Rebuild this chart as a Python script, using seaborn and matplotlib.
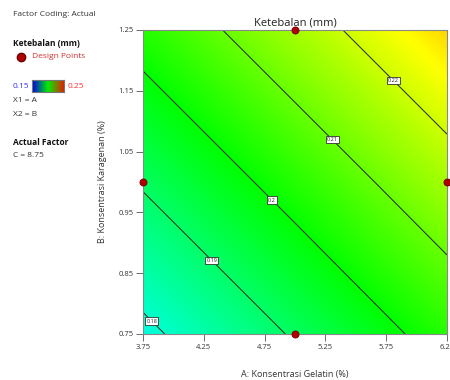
import numpy as np
import pandas as pd
import matplotlib
matplotlib.use("Agg")
import matplotlib.pyplot as plt
from matplotlib.colors import LinearSegmentedColormap
import seaborn as sns

# ---- data ----
x_vals = [3.75, 5.0, 6.25]          # A: Konsentrasi Gelatin (%)
y_vals = [0.75, 1.0, 1.25]          # B: Konsentrasi Karagenan (%)
# response Ketebalan (mm) at grid nodes, rows = y_vals, cols = x_vals
z_vals = [
    [0.1782, 0.1908, 0.2035],
    [0.1908, 0.2034, 0.2160],
    [0.2034, 0.2160, 0.2287],
]
contour_levels = [0.18, 0.19, 0.20, 0.21, 0.22]
label_pos = [(3.83, 0.773), (4.33, 0.874), (4.83, 0.974), (5.33, 1.075), (5.84, 1.174)]
design_A = [5.0, 5.0, 3.75, 6.25]
design_B = [1.25, 0.75, 1.0, 1.0]
x_ticks = [3.75, 4.25, 4.75, 5.25, 5.75, 6.25]
y_ticks = [0.75, 0.85, 0.95, 1.05, 1.15, 1.25]
cmin, cmax = 0.15, 0.25

sns.set_theme(style="white")
plt.rcParams['font.family'] = ['Open Sans', 'DejaVu Sans']

fig = plt.figure(figsize=(4.5, 3.8), dpi=100)
ax = fig.add_axes([143/450, 46/380, 304/450, 304/380])

cmap = LinearSegmentedColormap.from_list(
    "de", ["#0000ff", "#00ffff", "#00ff00", "#ffff00", "#ff0000"])

X, Y = np.meshgrid(x_vals, y_vals)
Z = np.array(z_vals)
cf = ax.contourf(X, Y, Z, levels=np.linspace(cmin, cmax, 401), cmap=cmap,
                 vmin=cmin, vmax=cmax, antialiased=False)
cs = ax.contour(X, Y, Z, levels=contour_levels, colors="#222222", linewidths=0.7)
labels = ax.clabel(cs, fmt="%g", inline=False, fontsize=4, manual=label_pos)
for t in labels:
    t.set_rotation(0)
    t.set_color("#222222")
    t.set_bbox(dict(facecolor="white", edgecolor="#333333", linewidth=0.6, pad=0.8))

dp = pd.DataFrame({"A": design_A, "B": design_B})
sns.scatterplot(data=dp, x="A", y="B", ax=ax, color="#b00000", edgecolor="#700000",
                s=26, linewidth=0.6, zorder=5, clip_on=False, legend=False)

ax.set_xlim(3.75, 6.25)
ax.set_ylim(0.75, 1.25)
ax.set_xticks(x_ticks)
ax.set_xticklabels([f"{v:.2f}" for v in x_ticks])
ax.set_yticks(y_ticks)
ax.set_yticklabels([f"{v:.2f}" for v in y_ticks])
ax.tick_params(axis="both", direction="out", length=5, width=0.6, color="#555555",
               labelsize=5.5, labelcolor="#333333", pad=2, bottom=True, left=True)
for s in ax.spines.values():
    s.set_color("#888888")
    s.set_linewidth(0.8)
ax.set_xlabel("A: Konsentrasi Gelatin (%)", fontsize=6.5, color="#333333", labelpad=14)
ax.set_ylabel("B: Konsentrasi Karagenan (%)", fontsize=6.5, color="#333333", labelpad=8)
ax.set_title("Ketebalan (mm)", fontsize=8, color="#222222", pad=3)

# ---- left legend panel ----
def ftext(x, y, s, **kw):
    fig.text(x/450, 1 - y/380, s, va="center", ha="left", **kw)

ftext(13, 15, "Factor Coding: Actual", fontsize=6, color="#333333")
ftext(13, 43, "Ketebalan (mm)", fontsize=6, color="#111111", fontweight="bold")
fig.add_artist(plt.Line2D([21/450], [1 - 57/380], marker="o", markersize=6,
                          color="#b00000", markeredgecolor="#700000", lw=0))
ftext(32, 57, "Design Points", fontsize=6, color="#d03030")
ftext(13, 86, "0.15", fontsize=6, color="#3333ff")
ftext(68, 86, "0.25", fontsize=6, color="#ff3333")
cax = fig.add_axes([32/450, 1 - 92/380, 32/450, 12/380])
cax.imshow(np.linspace(0, 1, 100)[None, :], aspect="auto",
           cmap=LinearSegmentedColormap.from_list("lg", ["#0000ee", "#00ee00", "#dd2200"]))
cax.set_xticks([]); cax.set_yticks([])
for s in cax.spines.values():
    s.set_color("#777777"); s.set_linewidth(0.8)
ftext(13, 100, "X1 = A", fontsize=6, color="#333333")
ftext(13, 114, "X2 = B", fontsize=6, color="#333333")
ftext(13, 142, "Actual Factor", fontsize=6, color="#111111", fontweight="bold")
ftext(13, 156, "C = 8.75", fontsize=6, color="#333333")

fig.savefig("out.png", dpi=100)
